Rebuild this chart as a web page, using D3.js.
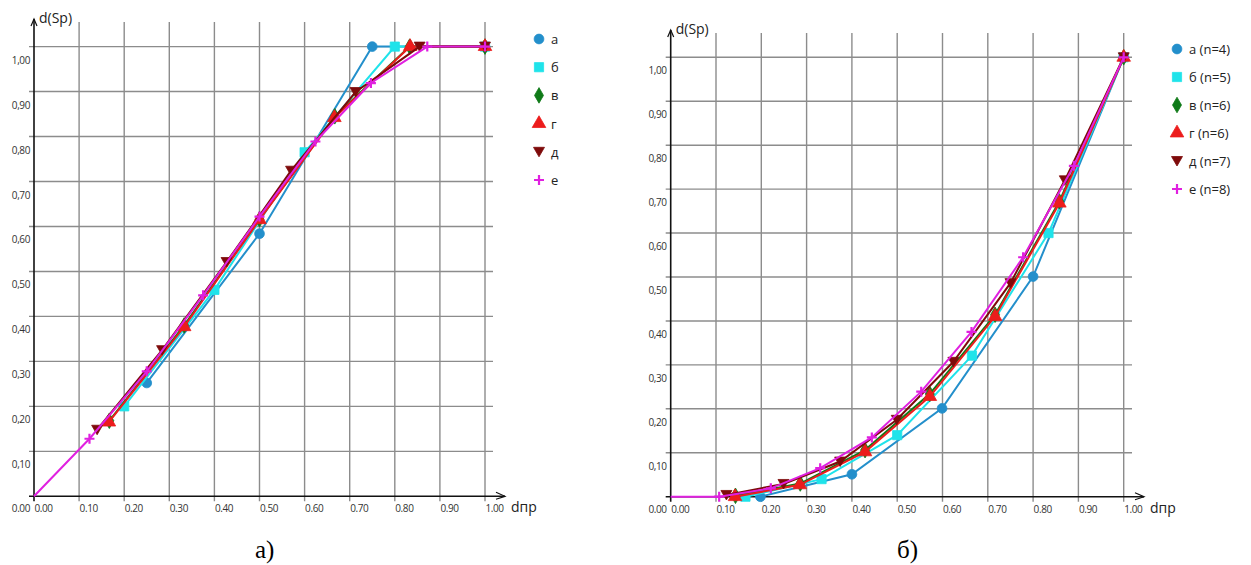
<!DOCTYPE html>
<html>
<head>
<meta charset="utf-8">
<script src="https://cdn.jsdelivr.net/npm/d3@7"></script>
<style>
  body { margin: 0; background: #fff; }
</style>
</head>
<body>
<svg id="chart" width="1251" height="565"></svg>
<script>
// Tick labels shared by both panels
const xTickValues = [0, 0.1, 0.2, 0.3, 0.4, 0.5, 0.6, 0.7, 0.8, 0.9, 1.0]
const xTickLabels = ['0.00', '0.10', '0.20', '0.30', '0.40', '0.50', '0.60', '0.70', '0.80', '0.90', '1.00']
const yTickValues = [0.1, 0.2, 0.3, 0.4, 0.5, 0.6, 0.7, 0.8, 0.9, 1.0]
const yTickLabels = ['0,10', '0,20', '0,30', '0,40', '0,50', '0,60', '0,70', '0,80', '0,90', '1,00']

const seriesNames = ['а', 'б', 'в', 'г', 'д', 'е']
const legendLeft = ['а', 'б', 'в', 'г', 'д', 'е']
const legendRight = ['а (n=4)', 'б (n=5)', 'в (n=6)', 'г (n=6)', 'д (n=7)', 'е (n=8)']

// Panel a) — points [dпр, d(Sp)]
const leftA = [[0.25, 0.252], [0.5, 0.584], [0.75, 1.0], [1.0, 1.0]]
const leftB = [[0.2, 0.2], [0.4, 0.459], [0.6, 0.765], [0.8, 1.0], [1.0, 1.0]]
const leftV = [[0.167, 0.168], [0.333, 0.38], [0.5, 0.616], [0.667, 0.845], [0.833, 1.0], [1.0, 1.0]]
const leftG = [[0.166, 0.165], [0.333, 0.377], [0.5, 0.615], [0.666, 0.842], [0.834, 1.0], [1.0, 1.0]]
const leftD = [[0.14, 0.148], [0.284, 0.325], [0.427, 0.521], [0.57, 0.724], [0.713, 0.899], [0.855, 1.0], [1.0, 1.0]]
const leftE = [[0, 0], [0.123, 0.128], [0.25, 0.278], [0.375, 0.447], [0.5, 0.622], [0.624, 0.789], [0.747, 0.919], [0.872, 1.0], [1.0, 1.0]]

// Panel б)
const rightA = [[0.198, 0], [0.4, 0.051], [0.599, 0.201], [0.8, 0.501], [1.0, 1.0]]
const rightB = [[0.165, 0], [0.333, 0.04], [0.5, 0.14], [0.665, 0.321], [0.834, 0.6], [1.0, 1.0]]
const rightV = [[0.143, 0.002], [0.286, 0.03], [0.429, 0.106], [0.572, 0.234], [0.716, 0.414], [0.858, 0.672], [1.0, 1.0]]
const rightG = [[0.142, 0], [0.285, 0.027], [0.429, 0.102], [0.572, 0.228], [0.716, 0.41], [0.858, 0.668], [1.0, 1.0]]
const rightD = [[0.123, 0.004], [0.249, 0.029], [0.374, 0.08], [0.499, 0.175], [0.624, 0.307], [0.75, 0.486], [0.87, 0.72], [1.0, 1.0]]
const rightE = [[0, 0], [0.107, 0], [0.221, 0.019], [0.33, 0.065], [0.444, 0.135], [0.553, 0.239], [0.664, 0.375], [0.778, 0.545], [0.89, 0.753], [1.0, 1.0]]

const colors = ['#238fcb', '#1fe3ea', '#0f7a18', '#ec1c1c', '#7e0a0a', '#e020e0']
const crossPath = 'M-5,0H5M0,-5V5'
const triangleDown = 'M0,5L5.5,-4.5H-5.5Z'
const markerPaths = [
  d3.symbol(d3.symbolCircle, 75)(),
  d3.symbol(d3.symbolSquare, 85)(),
  d3.symbol(d3.symbolDiamond, 70)(),
  d3.symbol(d3.symbolTriangle, 80)(),
  triangleDown,
  crossPath
]

const svg = d3.select('#chart')
const font = "'Open Sans', 'DejaVu Sans', sans-serif"

function drawPanel(p) {
  const x = d3.scaleLinear().domain([0, 1]).range([p.left, p.right])
  const y = d3.scaleLinear().domain([0, 1]).range([p.bottom, p.top])
  const g = svg.append('g')

  // Grid
  g.selectAll('.vg')
    .data(xTickValues.slice(1))
    .join('line')
    .attr('x1', d => x(d)).attr('x2', d => x(d))
    .attr('y1', p.gridTop).attr('y2', p.bottom + 5)
    .attr('stroke', '#8c8c8c').attr('stroke-width', 1.4)

  g.selectAll('.hg')
    .data(yTickValues)
    .join('line')
    .attr('x1', p.left - 5).attr('x2', p.gridRight)
    .attr('y1', d => y(d)).attr('y2', d => y(d))
    .attr('stroke', '#8c8c8c').attr('stroke-width', 1.4)

  // Axes with arrows
  g.append('line')
    .attr('x1', p.left).attr('x2', p.left)
    .attr('y1', p.bottom + 5).attr('y2', p.gridTop - 3)
    .attr('stroke', '#111').attr('stroke-width', 1.6)
  g.append('path')
    .attr('d', `M${p.left - 3},${p.gridTop + 4}L${p.left},${p.gridTop - 3}L${p.left + 3},${p.gridTop + 4}`)
    .attr('fill', 'none').attr('stroke', '#111').attr('stroke-width', 1.2)
  g.append('line')
    .attr('x1', p.left - 5).attr('x2', p.arrowRight)
    .attr('y1', p.bottom).attr('y2', p.bottom)
    .attr('stroke', '#111').attr('stroke-width', 1.6)
  g.append('path')
    .attr('d', `M${p.arrowRight - 9},${p.bottom - 4}L${p.arrowRight},${p.bottom}L${p.arrowRight - 9},${p.bottom + 3}`)
    .attr('fill', 'none').attr('stroke', '#111').attr('stroke-width', 1.2)

  // Tick labels
  g.selectAll('.xl')
    .data(xTickValues)
    .join('text')
    .attr('x', d => x(d) + 0.5)
    .attr('y', p.bottom + 16)
    .attr('font-family', font).attr('font-size', 10)
    .attr('letter-spacing', -0.4)
    .attr('fill', '#333')
    .text((d, i) => xTickLabels[i])

  g.selectAll('.yl')
    .data(yTickValues)
    .join('text')
    .attr('x', p.left - 4)
    .attr('y', d => y(d) + 17)
    .attr('text-anchor', 'end')
    .attr('font-family', font).attr('font-size', 10)
    .attr('letter-spacing', -0.4)
    .attr('fill', '#333')
    .text((d, i) => yTickLabels[i])

  g.append('text')
    .attr('x', p.left - 4).attr('y', p.bottom + 16)
    .attr('text-anchor', 'end')
    .attr('font-family', font).attr('font-size', 10)
    .attr('letter-spacing', -0.4)
    .attr('fill', '#333')
    .text('0.00')

  // Axis titles
  g.append('text')
    .attr('x', p.left + 5).attr('y', p.gridTop + 1)
    .attr('font-family', font).attr('font-size', 14)
    .attr('fill', '#222')
    .text('d(Sp)')
  g.append('text')
    .attr('x', p.arrowRight + 6).attr('y', p.bottom + 16)
    .attr('font-family', font).attr('font-size', 14)
    .attr('fill', '#222')
    .text('dпр')

  // Series
  const line = d3.line().x(d => x(d[0])).y(d => y(d[1]))
  p.series.forEach((s, i) => {
    g.append('path')
      .datum(s)
      .attr('d', line)
      .attr('fill', 'none')
      .attr('stroke', colors[i])
      .attr('stroke-width', 2)
    g.selectAll(null)
      .data(s.filter(d => !(i === 5 && d[0] === 0)))
      .join('path')
      .attr('transform', d => `translate(${x(d[0])},${y(d[1])})`)
      .attr('d', markerPaths[i])
      .attr('fill', i === 5 ? 'none' : colors[i])
      .attr('stroke', colors[i])
      .attr('stroke-width', i === 5 ? 2.2 : 0.8)
  })

  // Legend
  const lg = g.append('g')
  p.legend.forEach((name, i) => {
    const ly = p.legendY + i * p.legendStep
    lg.append('path')
      .attr('transform', `translate(${p.legendX},${ly})`)
      .attr('d', markerPaths[i])
      .attr('fill', i === 5 ? 'none' : colors[i])
      .attr('stroke', colors[i])
      .attr('stroke-width', i === 5 ? 2.2 : 0.8)
    lg.append('text')
      .attr('x', p.legendX + 12).attr('y', ly + 5)
      .attr('font-family', font).attr('font-size', 13)
      .attr('fill', '#222')
      .text(name)
  })

  // Caption
  g.append('text')
    .attr('x', p.captionX).attr('y', 558)
    .attr('font-family', "'Liberation Serif', 'Times New Roman', serif")
    .attr('font-size', 25)
    .attr('fill', '#000')
    .text(p.caption)
}

drawPanel({
  left: 34, right: 485, bottom: 496.3, top: 46.6,
  gridTop: 22, gridRight: 493, arrowRight: 505,
  series: [leftA, leftB, leftV, leftG, leftD, leftE],
  legend: legendLeft, legendX: 539, legendY: 39, legendStep: 28.2,
  caption: 'а)', captionX: 255
})

drawPanel({
  left: 670.7, right: 1123.7, bottom: 496.7, top: 57.3,
  gridTop: 33, gridRight: 1132, arrowRight: 1144,
  series: [rightA, rightB, rightV, rightG, rightD, rightE],
  legend: legendRight, legendX: 1177, legendY: 49, legendStep: 28,
  caption: 'б)', captionX: 897
})
</script>
</body>
</html>
